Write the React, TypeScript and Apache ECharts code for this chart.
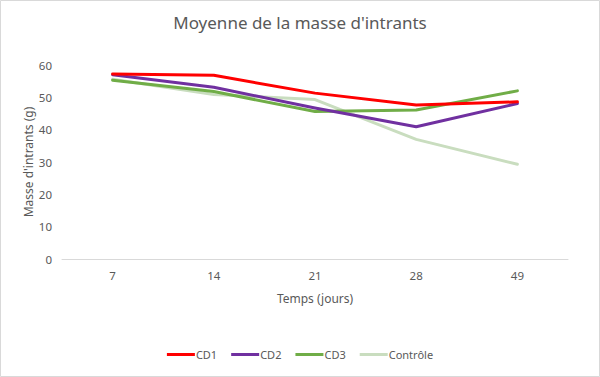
import React, { useEffect, useRef } from "react";
import * as echarts from "echarts";

const categories = ["7", "14", "21", "28", "49"];
const cd1 = [57.2, 56.8, 51.3, 47.6, 48.6];
const cd2 = [57.0, 53.1, 46.7, 40.9, 48.1];
const cd3 = [55.3, 51.8, 45.6, 46.1, 52.0];
const controle = [55.6, 50.9, 49.3, 37.0, 29.3];
const seriesNames = ["CD1", "CD2", "CD3", "Contrôle"];
const colors = ["#FF0000", "#7030A0", "#70AD47", "#C9DDBF"];

export default function App() {
  const ref = useRef<HTMLDivElement>(null);
  useEffect(() => {
    document.body.style.margin = "0";
    const chart = echarts.init(ref.current!, null, { renderer: "svg" });
    const font = "'Noto Sans', 'Open Sans', sans-serif";
    const data = [cd1, cd2, cd3, controle];
    chart.setOption({
      animation: false,
      backgroundColor: "#ffffff",
      textStyle: { fontFamily: font },
      title: {
        text: "Moyenne de la masse d'intrants",
        left: "center",
        top: 9,
        textStyle: { fontSize: 17, fontWeight: "normal", color: "#595959", fontFamily: font },
      },
      grid: { left: 62, right: 32, top: 65, bottom: 118, containLabel: false },
      xAxis: {
        type: "category",
        data: categories,
        boundaryGap: true,
        name: "Temps (jours)",
        nameLocation: "middle",
        nameGap: 33,
        nameMoveOverlap: false,
        nameTextStyle: { fontSize: 12, color: "#595959", fontFamily: font },
        axisLine: { lineStyle: { color: "#D9D9D9", width: 1 } },
        axisTick: { show: false },
        axisLabel: { color: "#595959", fontSize: 11.5, margin: 10, fontFamily: font },
      },
      yAxis: {
        type: "value",
        min: 0,
        max: 60,
        interval: 10,
        name: "Masse d'intrants (g)",
        nameLocation: "middle",
        nameGap: 28,
        nameMoveOverlap: false,
        nameTextStyle: { fontSize: 12, color: "#595959", fontFamily: font },
        axisLine: { show: false },
        axisTick: { show: false },
        splitLine: { show: false },
        axisLabel: { color: "#595959", fontSize: 11.5, margin: 10, fontFamily: font },
      },
      legend: {
        bottom: 12,
        left: "center",
        icon: "rect",
        itemWidth: 28,
        itemHeight: 3,
        itemGap: 14,
        textStyle: { color: "#595959", fontSize: 11, fontFamily: font, padding: [0, 0, 0, -4] },
        data: seriesNames,
      },
      series: seriesNames.map((name, i) => ({
        name,
        type: "line",
        data: data[i],
        symbol: "none",
        smooth: false,
        z: 10 - i,
        lineStyle: { color: colors[i], width: 3, cap: "round", join: "round" },
        itemStyle: { color: colors[i] },
      })),
      graphic: [
        {
          type: "rect",
          shape: { x: 0.5, y: 0.5, width: 599, height: 376 },
          style: { fill: "none", stroke: "#D9D9D9", lineWidth: 1 },
          silent: true,
        },
      ],
    });
    return () => chart.dispose();
  }, []);
  return (
    <div
      ref={ref}
      style={{ position: "fixed", left: 0, top: 0, width: 600, height: 377 }}
    />
  );
}
